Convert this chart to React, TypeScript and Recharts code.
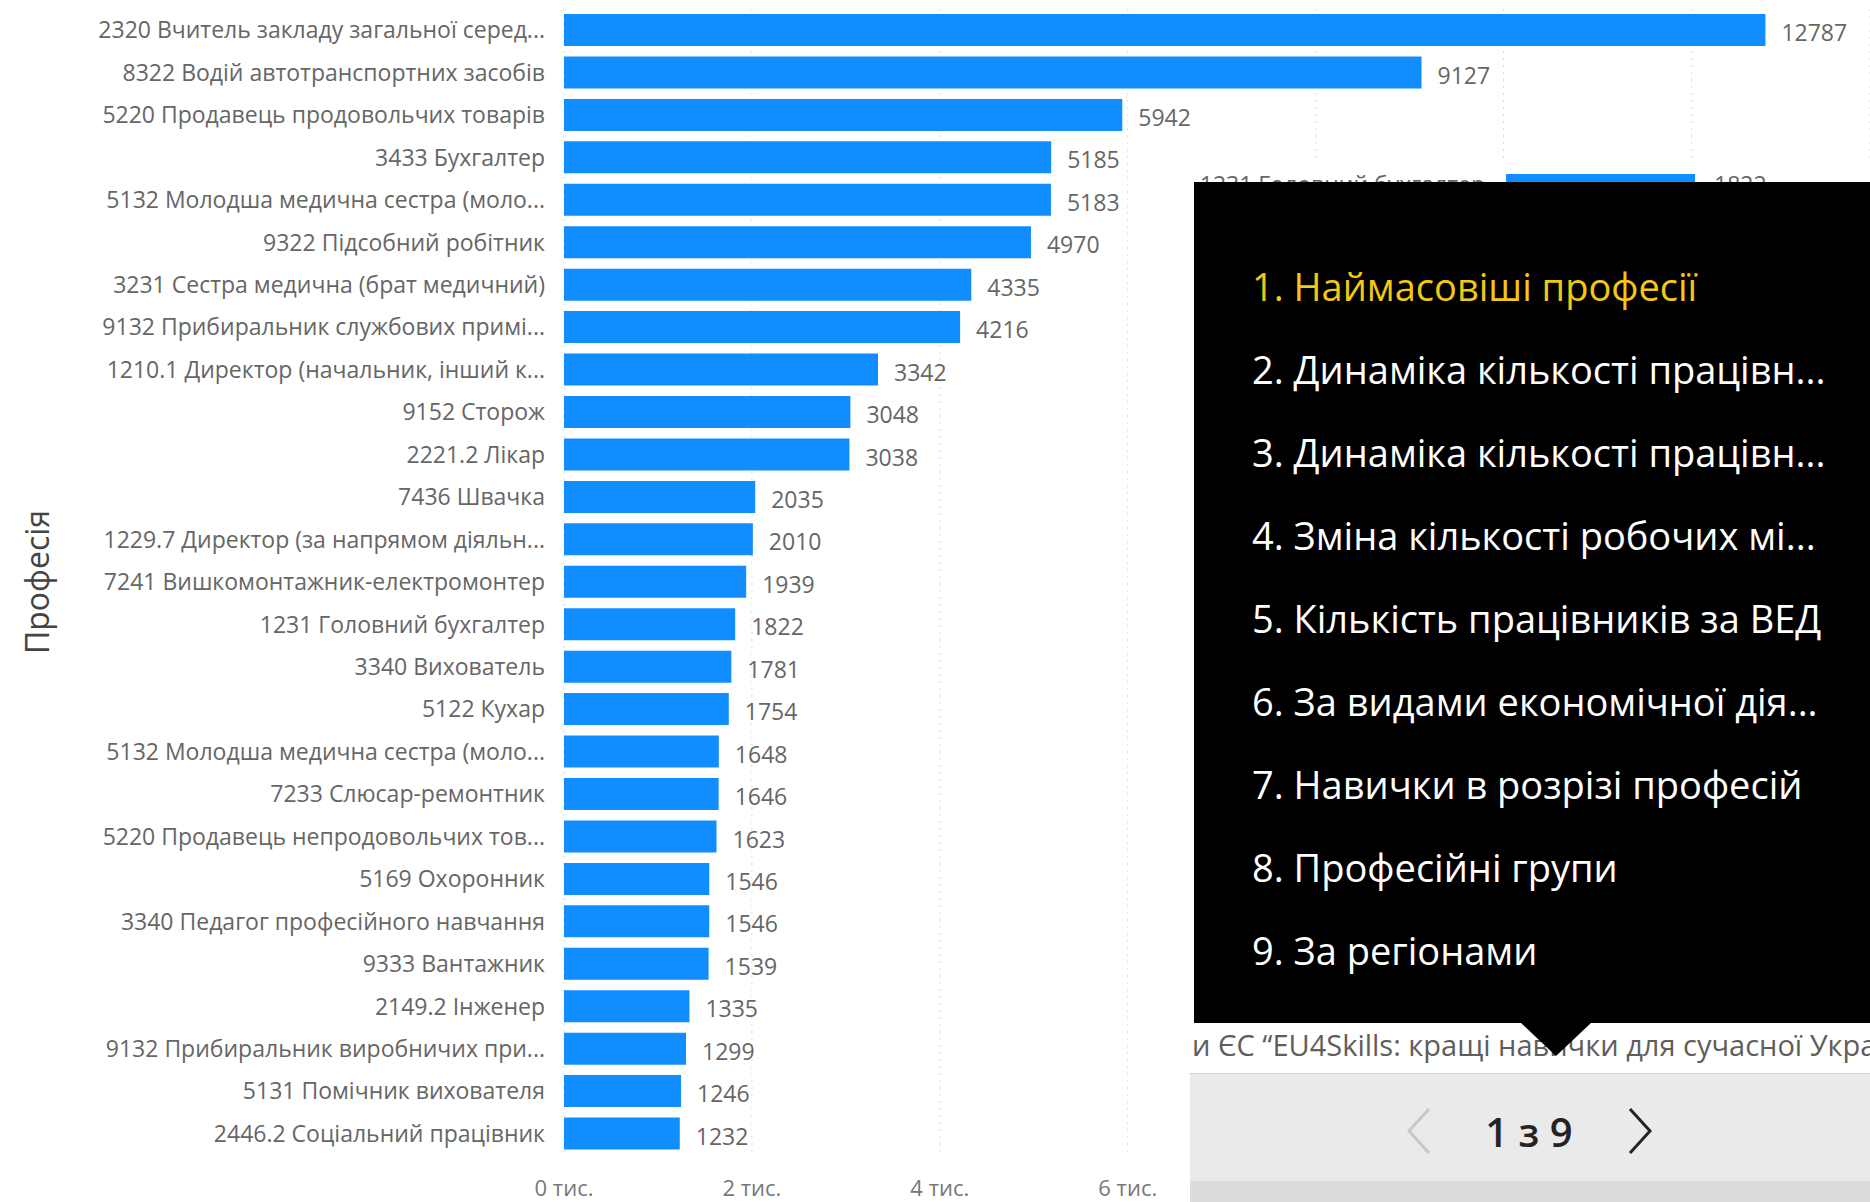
import { Bar, BarChart, CartesianGrid, LabelList, XAxis, YAxis } from "recharts";

// Top professions by number of workers (Power BI page 1 of 9).
const professions = [
  "2320 Вчитель закладу загальної серед...",
  "8322 Водій автотранспортних засобів",
  "5220 Продавець продовольчих товарів",
  "3433 Бухгалтер",
  "5132 Молодша медична сестра (моло...",
  "9322 Підсобний робітник",
  "3231 Сестра медична (брат медичний)",
  "9132 Прибиральник службових примі...",
  "1210.1 Директор (начальник, інший к...",
  "9152 Сторож",
  "2221.2 Лікар",
  "7436 Швачка",
  "1229.7 Директор (за напрямом діяльн...",
  "7241 Вишкомонтажник-електромонтер",
  "1231 Головний бухгалтер",
  "3340 Вихователь",
  "5122 Кухар",
  "5132 Молодша медична сестра (моло...",
  "7233 Слюсар-ремонтник",
  "5220 Продавець непродовольчих тов...",
  "5169 Охоронник",
  "3340 Педагог професійного навчання",
  "9333 Вантажник",
  "2149.2 Інженер",
  "9132 Прибиральник виробничих при...",
  "5131 Помічник вихователя",
  "2446.2 Соціальний працівник",
];

const workers = [
  12787, 9127, 5942, 5185, 5183, 4970, 4335, 4216, 3342, 3048, 3038, 2035, 2010, 1939,
  1822, 1781, 1754, 1648, 1646, 1623, 1546, 1546, 1539, 1335, 1299, 1246, 1232,
];

const xTicks = [0, 2000, 4000, 6000, 8000, 10000, 12000];

const pageNames = [
  "1. Наймасовіші професії",
  "2. Динаміка кількості працівн...",
  "3. Динаміка кількості працівн...",
  "4. Зміна кількості робочих мі...",
  "5. Кількість працівників за ВЕД",
  "6. За видами економічної дія...",
  "7. Навички в розрізі професій",
  "8. Професійні групи",
  "9. За регіонами",
];

const FONT = "'Open Sans', 'Noto Sans', sans-serif";
const BLUE = "#118DFF";

const rows = professions.map((name, i) => ({ name, value: workers[i] }));

function Chevron({ dir, color }: { dir: "left" | "right"; color: string }) {
  const pts = dir === "left" ? "24,2 4,24 24,46" : "4,2 24,24 4,46";
  return (
    <svg width={28} height={48} style={{ display: "block" }}>
      <polyline points={pts} fill="none" stroke={color} strokeWidth={3} />
    </svg>
  );
}

export default function App() {
  return (
    <div
      style={{
        position: "relative",
        width: 1870,
        height: 1202,
        overflow: "hidden",
        background: "#fff",
        fontFamily: FONT,
      }}
    >
      <style>{"body{margin:0}"}</style>

      <div style={{ position: "absolute", left: 0, top: 0 }}>
        <BarChart
          width={1870}
          height={1202}
          data={rows}
          layout="vertical"
          margin={{ top: 9, right: 0, bottom: 0, left: 0 }}
        >
          <CartesianGrid horizontal={false} stroke="#D9D9D9" strokeDasharray="2 5" />
          <XAxis
            type="number"
            domain={[0, 13900]}
            ticks={xTicks}
            tickFormatter={(v: number) => `${v / 1000} тис.`}
            axisLine={false}
            tickLine={false}
            tickSize={0}
            tickMargin={25}
            height={47}
            tick={{ fill: "#777", fontSize: 22, fontFamily: FONT }}
          />
          <YAxis
            type="category"
            dataKey="name"
            width={564}
            interval={0}
            axisLine={false}
            tickLine={false}
            tickSize={0}
            tickMargin={19}
            tick={{ fill: "#666", fontSize: 23, fontFamily: FONT }}
          />
          <Bar dataKey="value" fill={BLUE} barSize={32} isAnimationActive={false}>
            <LabelList
              dataKey="value"
              position="right"
              offset={16}
              fill="#666"
              fontSize={23}
              fontFamily={FONT}
              dy={3}
            />
          </Bar>
        </BarChart>
      </div>

      {/* axis title */}
      <div
        style={{
          position: "absolute",
          left: 36,
          top: 582,
          transform: "translate(-50%, -50%) rotate(-90deg)",
          fontSize: 32,
          color: "#444",
          whiteSpace: "nowrap",
        }}
      >
        Професія
      </div>

      {/* a neighbouring visual peeking above the page menu */}
      <div
        style={{
          position: "absolute",
          left: 1192,
          top: 160,
          width: 678,
          height: 22,
          overflow: "hidden",
          background: "#fff",
        }}
      >
        <div
          style={{
            position: "absolute",
            right: 385,
            top: 8,
            fontSize: 23,
            color: "#666",
            whiteSpace: "nowrap",
          }}
        >
          1231 Головний бухгалтер
        </div>
        <div style={{ position: "absolute", left: 314, top: 14, width: 189, height: 32, background: BLUE }} />
        <div style={{ position: "absolute", left: 522, top: 8, fontSize: 23, color: "#666" }}>1822</div>
      </div>

      {/* caption strip under the menu */}
      <div
        style={{
          position: "absolute",
          left: 1190,
          top: 1023,
          width: 680,
          height: 50,
          overflow: "hidden",
          background: "#fff",
        }}
      >
        <div
          style={{
            position: "absolute",
            left: 2,
            top: 2,
            fontSize: 29,
            color: "#605E5C",
            whiteSpace: "nowrap",
          }}
        >
          и ЄС “EU4Skills: кращі навички для сучасної України”
        </div>
      </div>

      {/* page menu */}
      <div
        style={{
          position: "absolute",
          left: 1194,
          top: 182,
          width: 676,
          height: 841,
          background: "#000",
        }}
      >
        {pageNames.map((name, i) => (
          <div
            key={name}
            style={{
              position: "absolute",
              left: 58,
              top: 104 + i * 83 - 26,
              height: 52,
              lineHeight: "52px",
              fontSize: 38,
              color: i === 0 ? "#F2C811" : "#fff",
              whiteSpace: "nowrap",
            }}
          >
            {name}
          </div>
        ))}
      </div>
      <div
        style={{
          position: "absolute",
          left: 1556 - 35,
          top: 1023,
          width: 0,
          height: 0,
          borderLeft: "35px solid transparent",
          borderRight: "35px solid transparent",
          borderTop: "33px solid #000",
        }}
      />

      {/* page navigator */}
      <div
        style={{
          position: "absolute",
          left: 1190,
          top: 1073,
          width: 680,
          height: 108,
          background: "#EAEAEA",
          borderTop: "1px solid #D2D2D2",
        }}
      >
        <div style={{ position: "absolute", left: 1419 - 1190 - 14, top: 33 }}>
          <Chevron dir="left" color="#C8C8C8" />
        </div>
        <div
          style={{
            position: "absolute",
            left: 1529 - 1190,
            top: 57,
            transform: "translate(-50%, -50%)",
            fontSize: 40,
            fontWeight: 600,
            color: "#252423",
            whiteSpace: "nowrap",
          }}
        >
          1 з 9
        </div>
        <div style={{ position: "absolute", left: 1640 - 1190 - 14, top: 33 }}>
          <Chevron dir="right" color="#252423" />
        </div>
      </div>
      <div
        style={{ position: "absolute", left: 1190, top: 1181, width: 680, height: 21, background: "#DCDCDC" }}
      />
    </div>
  );
}
